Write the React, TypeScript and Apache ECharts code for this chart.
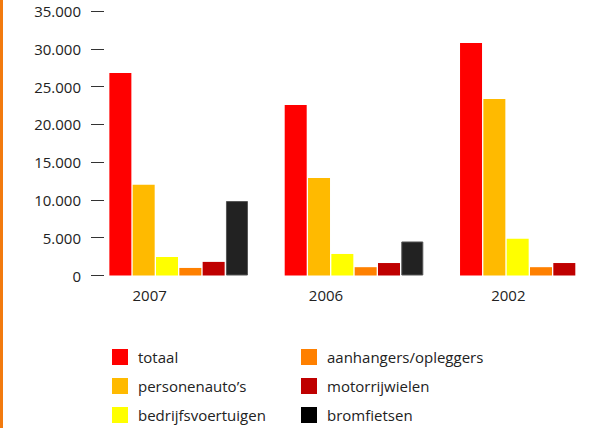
import React, { useEffect, useRef } from "react";
import * as echarts from "echarts";

const categories = ["2007", "2006", "2002"];
const seriesNames = [
  "totaal",
  "personenauto\u2019s",
  "bedrijfsvoertuigen",
  "aanhangers/opleggers",
  "motorrijwielen",
  "bromfietsen",
];
const totaal = [26800, 22550, 30750];
const personenautos = [12000, 12900, 23350];
const bedrijfsvoertuigen = [2450, 2850, 4850];
const aanhangers = [1000, 1100, 1100];
const motorrijwielen = [1800, 1650, 1650];
const bromfietsen: (number | null)[] = [9850, 4500, null];
const yTicks = [0, 5000, 10000, 15000, 20000, 25000, 30000, 35000];

const colors = ["#ff0000", "#ffba00", "#ffff00", "#ff8000", "#bf0000", "#222222"];
const legendColors = ["#ff0000", "#ffba00", "#ffff00", "#ff8000", "#bf0000", "#000000"];
const labelShift = [29, 28, 21];

const FONT = "Open Sans";

export default function App() {
  const ref = useRef<HTMLDivElement>(null);
  useEffect(() => {
    if (!ref.current) return;
    const chart = echarts.init(ref.current, undefined, { renderer: "svg" });
    const values = [totaal, personenautos, bedrijfsvoertuigen, aanhangers, motorrijwielen, bromfietsen];
    const rich: Record<string, any> = {};
    labelShift.forEach((s, i) => {
      rich["c" + i] = {
        fontFamily: FONT,
        fontSize: 15,
        color: "#222",
        padding: [0, s * 2, 0, 0],
      };
    });
    const legendItem = (i: number) => ({
      name: seriesNames[i],
      itemStyle: { color: legendColors[i], borderWidth: 0 },
    });
    const legendBase = {
      orient: "vertical",
      top: 347,
      height: 81,
      padding: 0,
      itemWidth: 16,
      itemHeight: 16,
      itemGap: 9,
      icon: "rect",
      selectedMode: false,
      textStyle: { fontFamily: FONT, fontSize: 15, color: "#222", lineHeight: 20, padding: [0, 0, 0, 5] },
    };
    chart.setOption({
      animation: false,
      backgroundColor: "#ffffff",
      grid: { left: 91, top: 11, width: 526, height: 264.5 },
      xAxis: {
        type: "category",
        data: categories,
        axisLine: { show: false },
        axisTick: { show: false },
        axisLabel: {
          margin: 12,
          formatter: (v: string) => {
            const idx = categories.indexOf(v);
            return "{c" + idx + "|" + v + "}";
          },
          rich,
        },
      },
      yAxis: {
        type: "value",
        min: yTicks[0],
        max: yTicks[yTicks.length - 1],
        interval: 5000,
        splitLine: { show: false },
        axisLine: { show: false },
        axisTick: { show: true, inside: true, length: 13, lineStyle: { color: "#333", width: 1 } },
        axisLabel: {
          margin: 10,
          fontFamily: FONT,
          fontSize: 15,
          color: "#222",
          formatter: (v: number) => v.toLocaleString("de-DE"),
        },
      },
      legend: [
        { ...legendBase, data: [0, 1, 2].map(legendItem), left: 112 },
        { ...legendBase, data: [3, 4, 5].map(legendItem), left: 301 },
      ],
      graphic: [
        { type: "rect", left: 0, top: 0, shape: { x: 0, y: 0, width: 3, height: 428 }, style: { fill: "#f27a0e" } },
      ],
      series: seriesNames.map((name, i) => ({
        name,
        type: "bar",
        data: values[i],
        barWidth: 22,
        barGap: "6%",
        itemStyle:
          i === 5
            ? { color: colors[i], borderColor: "#555", borderWidth: 1 }
            : { color: colors[i] },
      })),
    });
    return () => chart.dispose();
  }, []);
  return (
    <div
      style={{ position: "absolute", left: 0, top: 0, width: 607, height: 428, overflow: "hidden" }}
    >
      <div ref={ref} style={{ width: 640, height: 428 }} />
    </div>
  );
}
